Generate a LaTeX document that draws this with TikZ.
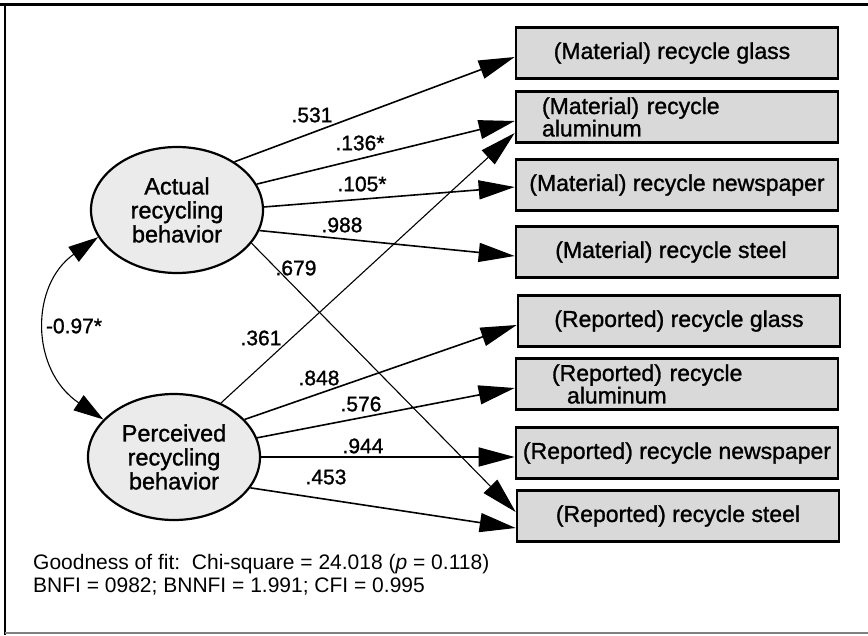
\documentclass[tikz,border=0pt]{standalone}
\usepackage{fontspec}
\setmainfont{Liberation Sans}
\newfontfamily\heavyfont{Liberation Sans}[FakeBold=1.2]
\usetikzlibrary{arrows.meta,shapes.geometric}

\begin{document}
\begin{tikzpicture}[>={Triangle[length=36pt,width=19pt]},x=1pt,y=-1pt,
		latent/.style={ellipse,draw,line width=2.2pt,fill=gray!16,minimum width=172pt,minimum height=126pt,inner sep=0pt,align=center,font=\heavyfont\fontsize{23.5}{24}\selectfont},
		indicator/.style={rectangle,draw,line width=2.6pt,fill=gray!30,minimum width=322pt,minimum height=51pt,inner sep=0pt,font=\heavyfont\fontsize{23}{20}\selectfont},
		load/.style={->,line width=1.6pt},
		cross/.style={->,line width=1.1pt},
		coef/.style={inner sep=0pt,font=\heavyfont\fontsize{21}{21}\selectfont}]
		\useasboundingbox (0,0) rectangle (868,635);
		\draw[line width=3pt] (0,4) -- (868,4);
		\draw[line width=2.5pt] (5,3) -- (5,635);
		\draw[gray,line width=1.5pt] (5,633) -- (868,633);
		\node[latent] (act) at (177,210) {Actual\\recycling\\behavior};
		\node[latent] (perc) at (174,457) {Perceived\\recycling\\behavior};
		\node[indicator] (mglass) at (677,53) {(Material) recycle glass\hspace*{10pt}};
		\node[indicator,text width=270pt,align=left] (malum) at (677,117) {(Material) recycle\\aluminum};
		\node[indicator] (mnews) at (677,185) {(Material) recycle newspaper};
		\node[indicator] (msteel) at (677,252) {(Material) recycle steel\hspace*{12pt}};
		\node[indicator] (rglass) at (679,321) {(Reported) recycle glass};
		\node[indicator,text width=250pt,align=left,font=\heavyfont\fontsize{23}{21}\selectfont] (ralum) at (677,384) {(Reported) recycle\\\hspace*{15pt}aluminum};
		\node[indicator] (rnews) at (677,453) {(Reported) recycle newspaper};
		\node[indicator] (rsteel) at (678,516) {(Reported) recycle steel};
		\draw[{Triangle[length=30pt,width=18pt]}-{Triangle[length=30pt,width=18pt]},line width=1.1pt] (act.199) .. controls (30,285) and (30,370) .. (perc.152);
		\draw[load] (act.40) -- ([yshift=-4pt]mglass.west);
		\draw[load] (act.18) -- ([yshift=-4pt]malum.west);
		\draw[load] (act.2) -- ([yshift=-2pt]mnews.west);
		\draw[load] (act.-14) -- ([yshift=-4pt]msteel.west);
		\draw[cross] (act.-24) -- ([yshift=4pt]rsteel.west);
		\draw[cross] (perc.49) -- ([yshift=-16pt]malum.west);
		\draw[load] (perc.28) -- ([yshift=-4pt]rglass.west);
		\draw[load] (perc.13) -- ([yshift=-4pt]ralum.west);
		\draw[load] (perc.0) -- ([yshift=-4pt]rnews.west);
		\draw[load] (perc.-22) -- ([yshift=-12pt]rsteel.west);
		\node[coef] (c531) at (312,115) {.531};
		\node[coef] (c136) at (360,143) {.136*};
		\node[coef] (c105) at (362,184) {.105*};
		\node[coef] (c988) at (342,225) {.988};
		\node[coef] (c679) at (296,268) {.679};
		\node[coef] (c361) at (261,338) {.361};
		\node[coef] (c848) at (319,378) {.848};
		\node[coef] (c576) at (361,404) {.576};
		\node[coef] (c944) at (363,446) {.944};
		\node[coef] (c453) at (326,477) {.453};
		\node[coef] (corr) at (74,326) {-0.97*};
		\node[anchor=west,align=left,inner sep=0pt,font=\fontsize{21}{23}\selectfont] (fit) at (33,575) {Goodness of fit:\ \ Chi-square = 24.018 (\textit{p} = 0.118)\\BNFI = 0982; BNNFI = 1.991; CFI = 0.995};
		\end{tikzpicture}
\end{document}
